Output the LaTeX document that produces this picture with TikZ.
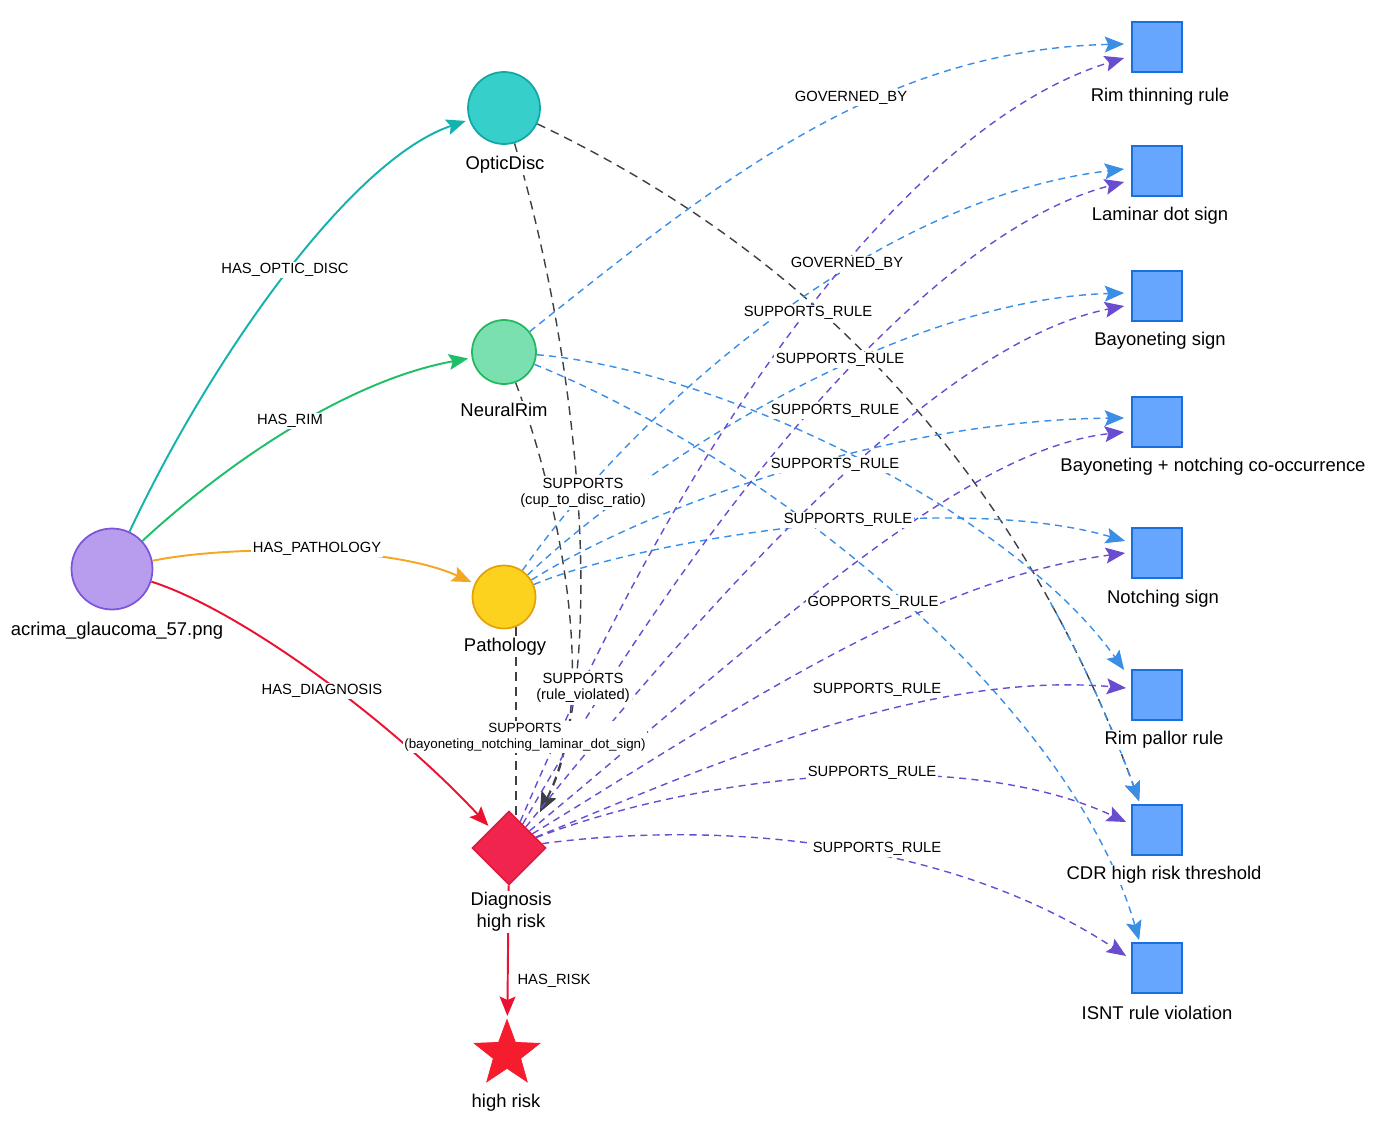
\documentclass[tikz,border=0pt]{standalone}
\usepackage{fontspec}
\setmainfont{Liberation Sans}
\usetikzlibrary{shapes.geometric,arrows.meta,calc}
\pgfdeclarelayer{bg}
\pgfsetlayers{bg,main}
\definecolor{purF}{HTML}{B89CEE}
\definecolor{purB}{HTML}{7C55D9}
\definecolor{tealF}{HTML}{36CFC9}
\definecolor{tealB}{HTML}{13A8A8}
\definecolor{tealE}{HTML}{13B2AE}
\definecolor{grnF}{HTML}{7BE0B0}
\definecolor{grnB}{HTML}{22B85F}
\definecolor{grnE}{HTML}{1FBE68}
\definecolor{yelF}{HTML}{FCD21E}
\definecolor{yelB}{HTML}{E4A209}
\definecolor{orgE}{HTML}{F5A623}
\definecolor{redE}{HTML}{EB1231}
\definecolor{diaF}{HTML}{F0244C}
\definecolor{diaB}{HTML}{D81B3F}
\definecolor{starF}{HTML}{F51C2D}
\definecolor{sqF}{HTML}{66A6FF}
\definecolor{sqB}{HTML}{1A6FE0}
\definecolor{bluE}{HTML}{3A8EE6}
\definecolor{vioE}{HTML}{6A4CD0}
\definecolor{drkE}{HTML}{3B3F47}
\begin{document}
\begin{tikzpicture}[x=0.02cm, y=-0.02cm,
  circ/.style={circle, draw, line width=1pt, inner sep=0pt},
  sqbox/.style={rectangle, draw=sqB, fill=sqF, line width=1pt, minimum size=1cm, inner sep=0pt},
  nlab/.style={font=\fontsize{10.5}{12.5}\selectfont, align=center, fill=white, inner sep=1pt},
  elab/.style={font=\fontsize{8.4}{9.2}\selectfont, align=center, fill=white, inner sep=1pt},
  tipa/.style={-{Stealth[length=11pt,width=9pt,inset=2pt]}},
  soledge/.style={tipa, line width=1.1pt, shorten >=2pt},
  bluedge/.style={tipa, draw=bluE, line width=0.8pt, dash pattern=on 4pt off 3pt},
  vioedge/.style={tipa, draw=vioE, line width=0.8pt, dash pattern=on 4pt off 3pt},
  drkedge/.style={tipa, draw=drkE, line width=0.8pt, dash pattern=on 5pt off 3.5pt}
]
\useasboundingbox (0,0) rectangle (1389,1132);

% ---------- nodes ----------
\node[circ, draw=purB, fill=purF, minimum size=1.62cm] (A) at (112,569) {};
\node[circ, draw=tealB, fill=tealF, minimum size=1.44cm] (OD) at (504,108) {};
\node[circ, draw=grnB, fill=grnF, minimum size=1.28cm] (NR) at (504,352) {};
\node[circ, draw=yelB, fill=yelF, minimum size=1.26cm] (P) at (504,597) {};
\node[diamond, aspect=1, draw=diaB, fill=diaF, line width=0.8pt, minimum size=1.48cm, inner sep=0pt] (D) at (509,848) {};
\node[star, star points=5, star point ratio=2.4, draw=starF, fill=starF, minimum size=1.38cm, inner sep=0pt] (S) at (507,1054) {};

\node[sqbox] (RT) at (1157,47) {};
\node[sqbox] (LD) at (1157,171) {};
\node[sqbox] (BS) at (1157,296) {};
\node[sqbox] (BN) at (1157,422) {};
\node[sqbox] (NS) at (1157,553) {};
\node[sqbox] (RP) at (1157,695) {};
\node[sqbox] (CDR) at (1157,830) {};
\node[sqbox] (IS) at (1157,968) {};

% ---------- node labels ----------
\node[nlab] (lA) at (117,631) {acrima\_glaucoma\_57.png};
\node[nlab] (lOD) at (505,165) {OpticDisc};
\node[nlab] (lNR) at (504,410) {NeuralRim};
\node[nlab] (lP) at (505,647) {Pathology};
\node[nlab] (lD) at (511,912) {Diagnosis\\high risk};
\node[nlab] (lS) at (506,1103) {high risk};
\node[nlab] (lRT) at (1160,97) {Rim thinning rule};
\node[nlab] (lLD) at (1160,216) {Laminar dot sign};
\node[nlab] (lBS) at (1160,341) {Bayoneting sign};
\node[nlab] (lBN) at (1213,467) {Bayoneting + notching co-occurrence};
\node[nlab] (lNS) at (1163,599) {Notching sign};
\node[nlab] (lRP) at (1164,740) {Rim pallor rule};
\node[nlab] (lCDR) at (1164,875) {CDR high risk threshold};
\node[nlab] (lIS) at (1157,1013) {ISNT rule violation};

% ---------- edges ----------
\begin{pgfonlayer}{bg}
% solid
\draw[soledge, draw=tealE] (A) .. controls (210,360) and (350,160) .. (OD);
\draw[soledge, draw=grnE] (A) .. controls (230,460) and (350,380) .. (NR);
\draw[soledge, draw=orgE] (A) .. controls (230,545) and (390,545) .. (P);
\draw[soledge, draw=redE] (A) .. controls (240,610) and (390,720) .. (D);
\draw[soledge, draw=redE] (D) -- (S);
% dark supports into diagnosis
\draw[drkedge] (OD) .. controls (585,380) and (605,680) .. ($(D.center)+(31,-36)$);
\draw[drkedge] (NR) .. controls (560,500) and (600,700) .. ($(D.center)+(31,-36)$);
\draw[drkedge] (P.-68) -- (P.-68 |- D.center);
% optic disc -> CDR
\draw[drkedge] (OD) .. controls (760,230) and (1000,420) .. ($(CDR.north west)+(8,-3)$);
\begin{scope}
\clip (1045,600) rectangle (1200,860);
\draw[bluedge] (OD) .. controls (760,230) and (1000,420) .. ($(CDR.north west)+(8,-3)$);
\end{scope}
% neural rim blue
\draw[bluedge] (NR) .. controls (720,180) and (880,50) .. ($(RT.west)+(-7,-3)$);
\draw[bluedge] (NR) .. controls (720,370) and (1010,510) .. ($(RP.west)+(-7,-25)$);
\draw[bluedge] (NR) .. controls (770,460) and (1070,700) .. ($(IS.north west)+(8,-2)$);
% pathology blue
\draw[bluedge] (P) .. controls (620,430) and (860,200) .. ($(LD.west)+(-7,-2)$);
\draw[bluedge] (P) .. controls (650,460) and (900,300) .. ($(BS.west)+(-7,-3)$);
\draw[bluedge] (P) .. controls (660,500) and (900,420) .. ($(BN.west)+(-7,-4)$);
\draw[bluedge] (P) .. controls (640,540) and (950,490) .. ($(NS.west)+(-6,-12)$);
% diagnosis violet
\draw[vioedge] (D) .. controls (700,400) and (920,120) .. ($(RT.west)+(-7,11)$);
\draw[vioedge] (D) .. controls (720,480) and (940,230) .. ($(LD.west)+(-7,11)$);
\draw[vioedge] (D) .. controls (740,560) and (950,340) .. ($(BS.west)+(-7,10)$);
\draw[vioedge] (D) .. controls (760,640) and (960,450) .. ($(BN.west)+(-7,10)$);
\draw[vioedge] (D) .. controls (720,720) and (920,580) .. ($(NS.west)+(-6,0)$);
\draw[vioedge] (D) .. controls (700,770) and (920,670) .. ($(RP.west)+(-5,-7)$);
\draw[vioedge] (D) .. controls (700,775) and (960,745) .. ($(CDR.west)+(-5,-8)$);
\draw[vioedge] (D) .. controls (720,820) and (950,840) .. ($(IS.west)+(-5,-12)$);
\end{pgfonlayer}

% ---------- edge labels ----------
\node[elab] (e1) at (285,270) {HAS\_OPTIC\_DISC};
\node[elab] (e2) at (290,421) {HAS\_RIM};
\node[elab] (e3) at (317,549) {HAS\_PATHOLOGY};
\node[elab] (e4) at (322,691) {HAS\_DIAGNOSIS};
\node[elab] (e5) at (554,981) {HAS\_RISK};
\node[elab] (e6) at (583,493) {SUPPORTS\\(cup\_to\_disc\_ratio)};
\node[elab] (e7) at (583,688) {SUPPORTS\\(rule\_violated)};
\node[elab, font=\fontsize{7.6}{9.2}\selectfont] (e8) at (525,737) {SUPPORTS\\(bayoneting\_notching\_laminar\_dot\_sign)};
\node[elab] (e9) at (851,98) {GOVERNED\_BY};
\node[elab] (e10) at (847,264) {GOVERNED\_BY};
\node[elab] (e11) at (808,313) {SUPPORTS\_RULE};
\node[elab] (e12) at (840,360) {SUPPORTS\_RULE};
\node[elab] (e13) at (835,411) {SUPPORTS\_RULE};
\node[elab] (e14) at (835,465) {SUPPORTS\_RULE};
\node[elab] (e15) at (848,520) {SUPPORTS\_RULE};
\node[elab] (e16) at (873,603) {GOPPORTS\_RULE};
\node[elab] (e17) at (877,690) {SUPPORTS\_RULE};
\node[elab] (e18) at (872,773) {SUPPORTS\_RULE};
\node[elab] (e19) at (877,849) {SUPPORTS\_RULE};
\end{tikzpicture}
\end{document}
